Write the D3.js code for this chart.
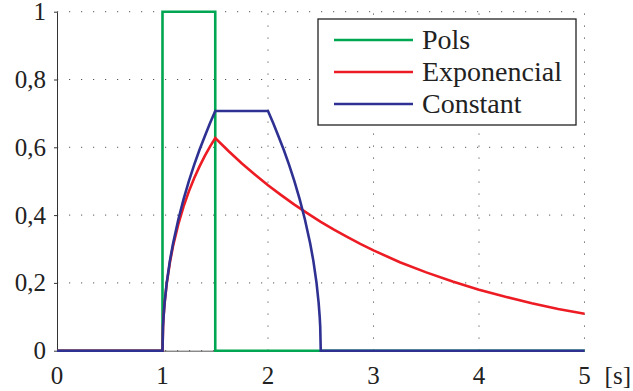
<!DOCTYPE html>
<html>
<head>
<meta charset="utf-8">
<script src="https://cdn.jsdelivr.net/npm/d3@7"></script>
</head>
<body style="margin:0">
<div id="chart"></div>
<script>
// series (time in s, value 0..1)
const polsT = [0, 1, 1, 1.5, 1.5, 5]
const polsV = [0, 0, 1, 1, 0, 0]

const expT = [0, 1, 1.005, 1.01, 1.02, 1.04, 1.07, 1.1, 1.15, 1.2, 1.25, 1.3, 1.35, 1.4, 1.45, 1.5,
	1.625, 1.75, 1.875, 2, 2.125, 2.25, 2.375, 2.5, 2.625, 2.75, 2.875, 3, 3.25, 3.5, 3.75, 4, 4.25, 4.5, 4.75, 5]
const expV = [0, 0, 0.071, 0.1, 0.141, 0.198, 0.26, 0.309, 0.373, 0.426, 0.47, 0.509, 0.543, 0.574, 0.602, 0.627,
	0.589, 0.553, 0.52, 0.488, 0.459, 0.431, 0.405, 0.38, 0.357, 0.336, 0.315, 0.296, 0.261, 0.231, 0.204, 0.18, 0.159, 0.14, 0.123, 0.109]

const constT = [0, 1, 1.005, 1.01, 1.02, 1.04, 1.07, 1.1, 1.15, 1.2, 1.25, 1.3, 1.35, 1.4, 1.45, 1.5,
	2, 2.05, 2.1, 2.15, 2.2, 2.25, 2.3, 2.35, 2.4, 2.43, 2.46, 2.48, 2.49, 2.495, 2.5, 5]
const constV = [0, 0, 0.071, 0.1, 0.141, 0.2, 0.265, 0.316, 0.387, 0.447, 0.5, 0.548, 0.592, 0.632, 0.671, 0.707,
	0.707, 0.671, 0.632, 0.592, 0.548, 0.5, 0.447, 0.387, 0.316, 0.265, 0.2, 0.141, 0.1, 0.071, 0, 0]

const seriesNames = ['Pols', 'Exponencial', 'Constant']
const seriesColors = ['#00a651', '#ed1c24', '#2e3192']
const xTicks = [0, 1, 2, 3, 4, 5]
const yTicks = [0, 0.2, 0.4, 0.6, 0.8, 1]
const yTickLabels = ['0', '0,2', '0,4', '0,6', '0,8', '1']
const xUnit = '[s]'

const width = 633
const height = 391
const margin = { top: 11.7, right: 48.5, bottom: 40.3, left: 57 }

// serif label helper: font set on the element itself, with priority
function serifText(sel, size) {
	return sel
		.attr('font-family', 'Liberation Serif')
		.attr('font-size', size)
		.style('font-family', 'Liberation Serif', 'important')
		.style('font-size', size + 'px', 'important')
		.attr('fill', '#222')
}

const svg = d3.select('#chart').append('svg')
	.attr('width', width)
	.attr('height', height)
	.style('display', 'block')

const x = d3.scaleLinear().domain([0, 5]).range([margin.left, width - margin.right])
const y = d3.scaleLinear().domain([0, 1]).range([height - margin.bottom, margin.top])

// dotted grid
const grid = svg.append('g')
	.attr('stroke', '#555')
	.attr('stroke-width', 1)
	.attr('stroke-dasharray', '1.2,10.8')

grid.selectAll('.vg')
	.data(xTicks.slice(1))
	.enter()
	.append('line')
	.attr('x1', d => x(d)).attr('x2', d => x(d))
	.attr('y1', y(0)).attr('y2', y(1))

grid.selectAll('.hg')
	.data(yTicks)
	.enter()
	.append('line')
	.attr('x1', x(0)).attr('x2', x(5))
	.attr('y1', d => y(d)).attr('y2', d => y(d))

// axes (lines only, labels drawn below)
const yAxis = svg.append('g')
	.attr('transform', `translate(${x(0)},0)`)
	.call(d3.axisLeft(y).tickValues(yTicks).tickSize(3).tickSizeOuter(0).tickFormat(''))
yAxis.select('.domain').attr('stroke', '#333')
yAxis.selectAll('.tick line').attr('stroke', '#333')

const xAxis = svg.append('g')
	.attr('transform', `translate(0,${y(0)})`)
	.call(d3.axisBottom(x).tickValues(xTicks).tickSize(0).tickSizeOuter(0).tickFormat(''))
xAxis.select('.domain').attr('stroke', '#555')

svg.selectAll('.ylab')
	.data(yTicks)
	.enter()
	.append('text')
	.attr('x', x(0) - 11)
	.attr('y', d => y(d) + 8.5)
	.attr('text-anchor', 'end')
	.text((d, i) => yTickLabels[i])
	.call(serifText, 25)

svg.selectAll('.xlab')
	.data(xTicks)
	.enter()
	.append('text')
	.attr('x', d => x(d))
	.attr('y', y(0) + 33)
	.attr('text-anchor', 'middle')
	.text(d => d)
	.call(serifText, 25)

svg.append('text')
	.attr('x', 631)
	.attr('y', 384)
	.attr('text-anchor', 'end')
	.text(xUnit)
	.call(serifText, 25)

// curves
const line = d3.line()
	.x(d => x(d[0]))
	.y(d => y(d[1]))

const series = [
	d3.zip(polsT, polsV),
	d3.zip(expT, expV),
	d3.zip(constT, constV)
]

svg.selectAll('.curve')
	.data(series)
	.enter()
	.append('path')
	.attr('class', 'curve')
	.attr('d', line)
	.attr('fill', 'none')
	.attr('stroke', (d, i) => seriesColors[i])
	.attr('stroke-width', 2.6)
	.attr('stroke-linejoin', 'miter')

// legend
svg.append('rect')
	.attr('x', 318).attr('y', 19)
	.attr('width', 258).attr('height', 106)
	.attr('fill', '#fff')
	.attr('stroke', '#222')
	.attr('stroke-width', 1.3)

svg.selectAll('.lgline')
	.data(seriesNames)
	.enter()
	.append('line')
	.attr('x1', 334).attr('x2', 413)
	.attr('y1', (d, i) => 40 + i * 32)
	.attr('y2', (d, i) => 40 + i * 32)
	.attr('stroke', (d, i) => seriesColors[i])
	.attr('stroke-width', 2.6)

svg.selectAll('.lgtext')
	.data(seriesNames)
	.enter()
	.append('text')
	.attr('x', 422)
	.attr('y', (d, i) => 49 + i * 32)
	.text(d => d)
	.call(serifText, 28)
</script>
</body>
</html>
